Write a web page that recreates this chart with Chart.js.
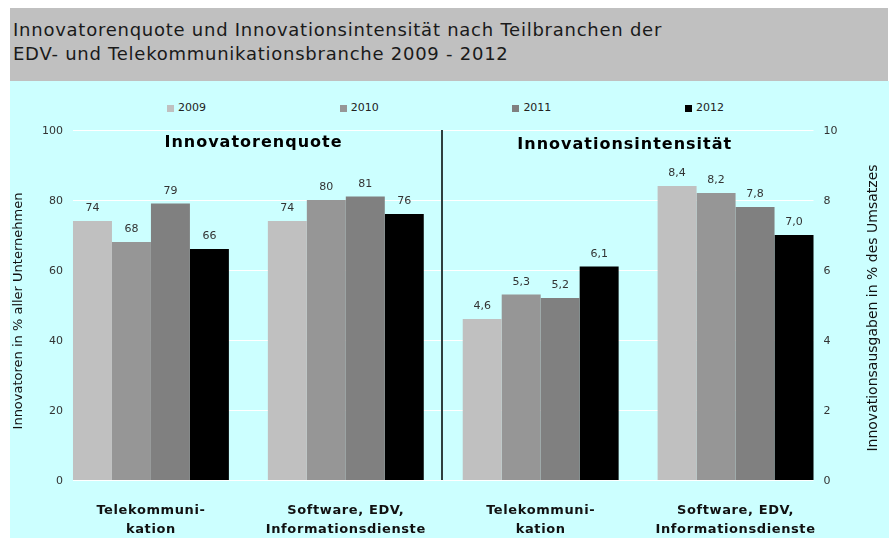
<!DOCTYPE html>
<html lang="de">
<head>
<meta charset="utf-8">
<title>Innovatorenquote und Innovationsintensität</title>
<script src="https://cdn.jsdelivr.net/npm/chart.js@4.4.1/dist/chart.umd.min.js"></script>
<style>
    body { margin: 0; background: #fff; width: 895px; height: 538px; position: relative; overflow: hidden; font-family: "DejaVu Sans", Verdana, sans-serif; }
    #titel { position: absolute; left: 10px; top: 8px; width: 878px; height: 73px; background: #c0c0c0; color: #1a1a1a; font-size: 18px; letter-spacing: 0.75px; line-height: 24px; padding: 10px 0 0 3px; box-sizing: border-box; }
    #flaeche { position: absolute; left: 10px; top: 81px; width: 879px; height: 457px; background: #ccffff; }
    #legende { position: absolute; left: 167px; top: 101px; display: flex; font-size: 11px; color: #222; line-height: 14px; }
    .eintrag { width: 172.7px; display: flex; align-items: center; }
    .kasten { width: 7px; height: 7px; margin-right: 4px; }
    canvas { position: absolute; left: 0; top: 0; }
</style>
</head>
<body>
<div id="titel">Innovatorenquote und Innovationsintensität nach Teilbranchen der<br>EDV- und Telekommunikationsbranche 2009 - 2012</div>
<div id="flaeche"></div>
<div id="legende"></div>
<canvas id="grafico" width="895" height="538"></canvas>

<script>
const kategorien = [
    ['Telekommuni-', 'kation'],
    ['Software, EDV,', 'Informationsdienste'],
    ['Telekommuni-', 'kation'],
    ['Software, EDV,', 'Informationsdienste']
];
const jahre = ['2009', '2010', '2011', '2012'];
const farben = ['#c0c0c0', '#969696', '#808080', '#000000'];

// Innovatorenquote (linke Achse, in % aller Unternehmen)
const quoteTelekom = [74, 68, 79, 66];
const quoteSoftware = [74, 80, 81, 76];

// Innovationsintensitaet (rechte Achse, in % des Umsatzes)
const intensTelekom = [4.6, 5.3, 5.2, 6.1];
const intensSoftware = [8.4, 8.2, 7.8, 7.0];

const ticksLinks = [0, 20, 40, 60, 80, 100];
const ticksRechts = [0, 2, 4, 6, 8, 10];

const schrift = '"DejaVu Sans", Verdana, sans-serif';

// Legende
jahre.forEach(function (jahr, i) {
    document.getElementById('legende').innerHTML +=
        `<div class="eintrag"><span class="kasten" style="background:${farben[i]}"></span>${jahr}</div>`;
});

const datasets = [];
jahre.forEach(function (jahr, i) {
    datasets.push({
        label: jahr,
        data: [quoteTelekom[i], quoteSoftware[i], null, null],
        backgroundColor: farben[i],
        yAxisID: 'y',
        skipNull: true,
        categoryPercentage: 0.8,
        barPercentage: 1
    });
});
jahre.forEach(function (jahr, i) {
    datasets.push({
        label: jahr,
        data: [null, null, intensTelekom[i], intensSoftware[i]],
        backgroundColor: farben[i],
        yAxisID: 'y1',
        skipNull: true,
        categoryPercentage: 0.8,
        barPercentage: 1,
        dezimal: true
    });
});

const extras = {
    id: 'extras',
    beforeDatasetsDraw(chart) {
        const ctx = chart.ctx;
        const y = chart.scales.y;
        const y1 = chart.scales.y1;
        const x = chart.scales.x;
        const area = chart.chartArea;
        const erste = chart.getDatasetMeta(0).data[0];
        const letzte = chart.getDatasetMeta(7).data[3];
        const x0 = erste.x - erste.width / 2;
        const x1 = letzte.x + letzte.width / 2;

        ctx.save();
        // Gitterlinien
        ctx.strokeStyle = '#ffffff';
        ctx.lineWidth = 1;
        y.ticks.forEach(function (t) {
            const py = Math.round(y.getPixelForValue(t.value)) + 0.5;
            ctx.beginPath();
            ctx.moveTo(x0, py);
            ctx.lineTo(x1, py);
            ctx.stroke();
        });

        // Achsenbeschriftung
        ctx.font = '11px ' + schrift;
        ctx.fillStyle = '#333';
        ctx.textBaseline = 'middle';
        ctx.textAlign = 'right';
        y.ticks.forEach(function (t) {
            ctx.fillText(String(t.value), x0 - 10, y.getPixelForValue(t.value) + 1);
        });
        ctx.textAlign = 'left';
        y1.ticks.forEach(function (t) {
            ctx.fillText(String(t.value), x1 + 10, y1.getPixelForValue(t.value) + 1);
        });

        // Kategorien
        ctx.font = 'bold 13px ' + schrift;
        ctx.letterSpacing = '0.6px';
        ctx.fillStyle = '#111';
        ctx.textAlign = 'center';
        kategorien.forEach(function (zeilen, i) {
            const px = x.getPixelForValue(i);
            zeilen.forEach(function (z, k) {
                ctx.fillText(z, px, area.bottom + 31 + k * 19);
            });
        });

        // Trennlinie zwischen den beiden Teilen
        const links = chart.getDatasetMeta(3).data[1];
        const rechts = chart.getDatasetMeta(4).data[2];
        const xt = Math.round(((links.x + links.width / 2) + (rechts.x - rechts.width / 2)) / 2) - 1;
        ctx.strokeStyle = '#2f3f3f';
        ctx.lineWidth = 2;
        ctx.beginPath();
        ctx.moveTo(xt, area.top);
        ctx.lineTo(xt, area.bottom);
        ctx.stroke();

        // Ueberschriften
        ctx.fillStyle = '#000';
        ctx.font = 'bold 16px ' + schrift;
        ctx.letterSpacing = '1px';
        ctx.fillText('Innovatorenquote', (x0 + xt) / 2 - 4, area.top + 13);
        ctx.fillText('Innovationsintensität', (xt + x1) / 2 - 3, area.top + 15);
        ctx.letterSpacing = '0px';

        // Achsentitel
        ctx.fillStyle = '#111';
        const ym = (area.top + area.bottom) / 2;
        ctx.save();
        ctx.font = '13px ' + schrift;
        ctx.translate(19, ym + 6);
        ctx.rotate(-Math.PI / 2);
        ctx.fillText('Innovatoren in % aller Unternehmen', 0, 0);
        ctx.restore();
        ctx.save();
        ctx.font = '14px ' + schrift;
        ctx.translate(873, ym + 3);
        ctx.rotate(-Math.PI / 2);
        ctx.fillText('Innovationsausgaben in % des Umsatzes', 0, 0);
        ctx.restore();
        ctx.restore();
    },
    afterDatasetsDraw(chart) {
        const ctx = chart.ctx;
        ctx.save();
        ctx.font = '11px ' + schrift;
        ctx.fillStyle = '#333';
        ctx.textAlign = 'center';
        ctx.textBaseline = 'alphabetic';
        chart.data.datasets.forEach(function (ds, i) {
            chart.getDatasetMeta(i).data.forEach(function (bar, j) {
                const v = ds.data[j];
                if (v === null) return;
                const texto = ds.dezimal ? v.toFixed(1).replace('.', ',') : String(v);
                ctx.fillText(texto, bar.x, bar.y - 10);
            });
        });
        ctx.restore();
    }
};

const config = {
    type: 'bar',
    data: {
        labels: kategorien,
        datasets: datasets
    },
    options: {
        responsive: false,
        animation: false,
        layout: { padding: { top: 130, left: 0, right: 0, bottom: 0 } },
        plugins: {
            legend: { display: false },
            tooltip: { enabled: false }
        },
        scales: {
            x: {
                grid: { display: false, drawTicks: false },
                border: { display: false },
                ticks: { display: false },
                afterFit: function (scale) { scale.height = 58; }
            },
            y: {
                position: 'left',
                min: ticksLinks[0],
                max: ticksLinks[ticksLinks.length - 1],
                afterBuildTicks: function (scale) { scale.ticks = ticksLinks.map(v => ({ value: v })); },
                grid: { display: false, drawTicks: false },
                border: { display: false },
                ticks: { display: false },
                afterFit: function (scale) { scale.width = 53.5; }
            },
            y1: {
                position: 'right',
                min: ticksRechts[0],
                max: ticksRechts[ticksRechts.length - 1],
                afterBuildTicks: function (scale) { scale.ticks = ticksRechts.map(v => ({ value: v })); },
                grid: { display: false, drawTicks: false },
                border: { display: false },
                ticks: { display: false },
                afterFit: function (scale) { scale.width = 62; }
            }
        }
    },
    plugins: [extras]
};

new Chart(document.getElementById('grafico'), config);
</script>
</body>
</html>
